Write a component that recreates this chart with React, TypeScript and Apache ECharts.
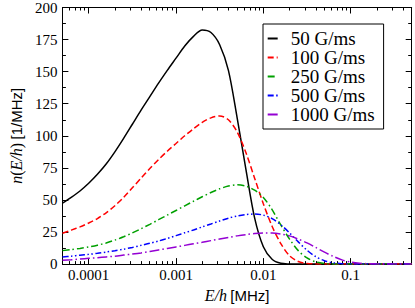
import React, { useEffect, useRef } from 'react';
import * as echarts from 'echarts';

// log10 of E/h in MHz at which the curves were read
const log10E = [
  -4.3, -4.2, -4.1, -4.0, -3.9, -3.8, -3.7, -3.6, -3.5, -3.4,
  -3.3, -3.2, -3.1, -3.0, -2.9, -2.8, -2.7, -2.6, -2.5, -2.4,
  -2.3, -2.2, -2.1, -2.0, -1.9, -1.8, -1.7, -1.6, -1.5, -1.4,
  -1.3, -1.2, -1.1, -1.0, -0.9, -0.8, -0.7, -0.6, -0.5, -0.4, -0.3,
];

const n50 = [
  47.5, 52, 57, 63, 70, 78, 87.5, 98, 109, 120,
  130.5, 141, 151, 160.5, 170, 177.5, 182.5, 180.5, 171, 151,
  114, 74, 36, 13.5, 3.8, 0.6, 0.1, 0, 0, 0,
  0, 0, 0, 0, 0, 0, 0, 0, 0, 0, 0,
];
const n100 = [
  24, 26.5, 29, 32, 35.5, 40, 45.5, 52, 59.5, 67,
  74.5, 81.5, 88, 94, 100, 105.5, 110.5, 114, 115.5, 112.5,
  103, 87, 67, 47, 29.5, 16, 6.5, 2, 0.5, 0.1,
  0, 0, 0, 0, 0, 0, 0, 0, 0, 0, 0,
];
const n250 = [
  10.5, 11.3, 12.2, 13.3, 14.7, 16.5, 18.7, 21.3, 24.3, 27.6,
  31, 34.6, 38.2, 41.8, 45.4, 49, 52.5, 55.8, 58.7, 60.8,
  61.8, 60.8, 57.6, 52, 42.5, 30.5, 19.5, 10.5, 4.8, 1.7,
  0.5, 0.1, 0, 0, 0, 0, 0, 0, 0, 0, 0,
];
const n500 = [
  5.6, 6.2, 6.9, 7.6, 8.4, 9.4, 10.4, 11.6, 13, 14.6,
  16.2, 18, 20, 22.2, 24.4, 26.6, 29, 31.3, 33.6, 35.8,
  37.5, 38.6, 39, 38.2, 35.5, 30.7, 24.3, 17.3, 10.8, 5.8,
  2.6, 1, 0.3, 0.1, 0, 0, 0, 0, 0, 0, 0,
];
const n1000 = [
  3, 3.4, 3.9, 4.5, 5, 5.6, 6.2, 7, 7.8, 8.7,
  9.8, 11, 12.2, 13.4, 14.6, 15.8, 17, 18.3, 19.6, 20.8,
  22, 23, 23.8, 24.2, 24.2, 23.5, 22, 19.5, 16.5, 13,
  9.3, 6, 3.3, 1.6, 0.7, 0.3, 0.1, 0, 0, 0, 0,
];

const seriesNames = ['50 G/ms', '100 G/ms', '250 G/ms', '500 G/ms', '1000 G/ms'];
const seriesValues = [n50, n100, n250, n500, n1000];
const seriesColors = ['#000000', '#ff0000', '#00a000', '#0000ff', '#9400d3'];
const seriesDashes: any[] = ['solid', [6, 3], [7, 3, 1.5, 3], [6, 2.5, 1.5, 2.5, 1.5, 2.5], [10, 3, 1.5, 3]];

const xMinMHz = 0.00005;
const xMaxMHz = 0.5;
const xTickValuesMHz = [0.0001, 0.001, 0.01, 0.1];
const xTickLabels = ['0.0001', '0.001', '0.01', '0.1'];
const yMin = 0;
const yMax = 200;
const yInterval = 25;

const serif = 'Liberation Serif';
const sans = 'Liberation Sans';

export default function App() {
  const ref = useRef<HTMLDivElement>(null);
  useEffect(() => {
    if (!ref.current) return;
    const chart = echarts.init(ref.current, undefined, { renderer: 'svg' });
    const xMin = Math.log10(xMinMHz);
    const xMax = Math.log10(xMaxMHz);
    const major = xTickValuesMHz.map((v) => Math.log10(v));
    const minor: number[] = [];
    for (let e = -5; e <= 0; e++) {
      for (let k = 2; k <= 9; k++) {
        const v = Math.log10(k * Math.pow(10, e));
        if (v > xMin && v < xMax) minor.push(v);
      }
    }
    const black = '#000';
    const baseX = {
      type: 'value',
      min: xMin,
      max: xMax,
      splitLine: { show: false },
      gridIndex: 0,
    };
    const option: any = {
      animation: false,
      grid: { left: 37.7, top: 6.7, right: 3.3, bottom: 39, containLabel: false },
      legend: {
        orient: 'vertical',
        left: 263,
        top: 24,
        itemGap: 0,
        itemWidth: 10,
        itemHeight: 16.7,
        padding: [5, 9, 5, 3],
        borderColor: black,
        borderWidth: 1,
        selectedMode: false,
        itemStyle: { opacity: 0 },
        textStyle: { fontFamily: serif, fontSize: 19, color: black, lineHeight: 16.7, padding: [0, 0, 0, 8] },
        data: seriesNames,
      },
      xAxis: [
        {
          ...baseX,
          position: 'bottom',
          axisLine: { show: true, lineStyle: { color: black, width: 1 } },
          axisTick: { show: true, inside: true, length: 6, customValues: major, lineStyle: { color: black } },
          axisLabel: {
            show: true,
            customValues: major,
            margin: 3,
            fontFamily: serif,
            fontSize: 15,
            color: black,
            formatter: (v: number) => {
              const i = major.findIndex((m) => Math.abs(m - v) < 1e-6);
              return i >= 0 ? xTickLabels[i] : '';
            },
          },
          name: '{i|E/h} {s|[MHz]}',
          nameLocation: 'middle',
          nameGap: 21,
          nameTextStyle: {
            color: black,
            rich: {
              i: { fontFamily: serif, fontStyle: 'italic', fontSize: 16, color: black },
              s: { fontFamily: sans, fontSize: 15, color: black },
            },
          },
        },
        {
          ...baseX,
          position: 'bottom',
          axisLine: { show: false },
          axisTick: { show: true, inside: true, length: 3, customValues: minor, lineStyle: { color: black } },
          axisLabel: { show: false },
        },
        {
          ...baseX,
          position: 'top',
          axisLine: { show: true, lineStyle: { color: black, width: 1 } },
          axisTick: { show: true, inside: true, length: 6, customValues: major, lineStyle: { color: black } },
          axisLabel: { show: false },
        },
        {
          ...baseX,
          position: 'top',
          axisLine: { show: false },
          axisTick: { show: true, inside: true, length: 3, customValues: minor, lineStyle: { color: black } },
          axisLabel: { show: false },
        },
      ],
      yAxis: [
        {
          type: 'value',
          min: yMin,
          max: yMax,
          interval: yInterval,
          position: 'left',
          splitLine: { show: false },
          axisLine: { show: true, lineStyle: { color: black, width: 1 } },
          axisTick: { show: true, inside: true, length: 6, lineStyle: { color: black } },
          minorTick: { show: true, splitNumber: 2, length: 3.5, lineStyle: { color: black } },
          axisLabel: { fontFamily: serif, fontSize: 15, color: black, margin: 5 },
          name: '{i|n}{r|(}{i|E/h}{r|)} {s|[1/MHz]}',
          nameLocation: 'middle',
          nameRotate: 90,
          nameGap: 21,
          nameTextStyle: {
            color: black,
            rich: {
              i: { fontFamily: serif, fontStyle: 'italic', fontSize: 16, color: black },
              r: { fontFamily: serif, fontSize: 16, color: black },
              s: { fontFamily: sans, fontSize: 15, color: black },
            },
          },
        },
        {
          type: 'value',
          min: yMin,
          max: yMax,
          interval: yInterval,
          position: 'right',
          splitLine: { show: false },
          axisLine: { show: true, lineStyle: { color: black, width: 1 } },
          axisTick: { show: true, inside: true, length: 6, lineStyle: { color: black } },
          minorTick: { show: true, splitNumber: 2, length: 3.5, lineStyle: { color: black } },
          axisLabel: { show: false },
        },
      ],
      series: seriesNames.map((name, si) => ({
        name,
        type: 'line',
        xAxisIndex: 0,
        yAxisIndex: 0,
        symbol: 'none',
        smooth: 0.3,
        clip: true,
        data: log10E.map((x, i) => [x, seriesValues[si][i]]),
        lineStyle: { color: seriesColors[si], width: 1.5, type: seriesDashes[si] },
        itemStyle: { color: seriesColors[si] },
      })),
    };
    chart.setOption(option);
    return () => chart.dispose();
  }, []);
  return <div ref={ref} style={{ position: 'absolute', left: 0, top: 0, width: 415, height: 308 }} />;
}
